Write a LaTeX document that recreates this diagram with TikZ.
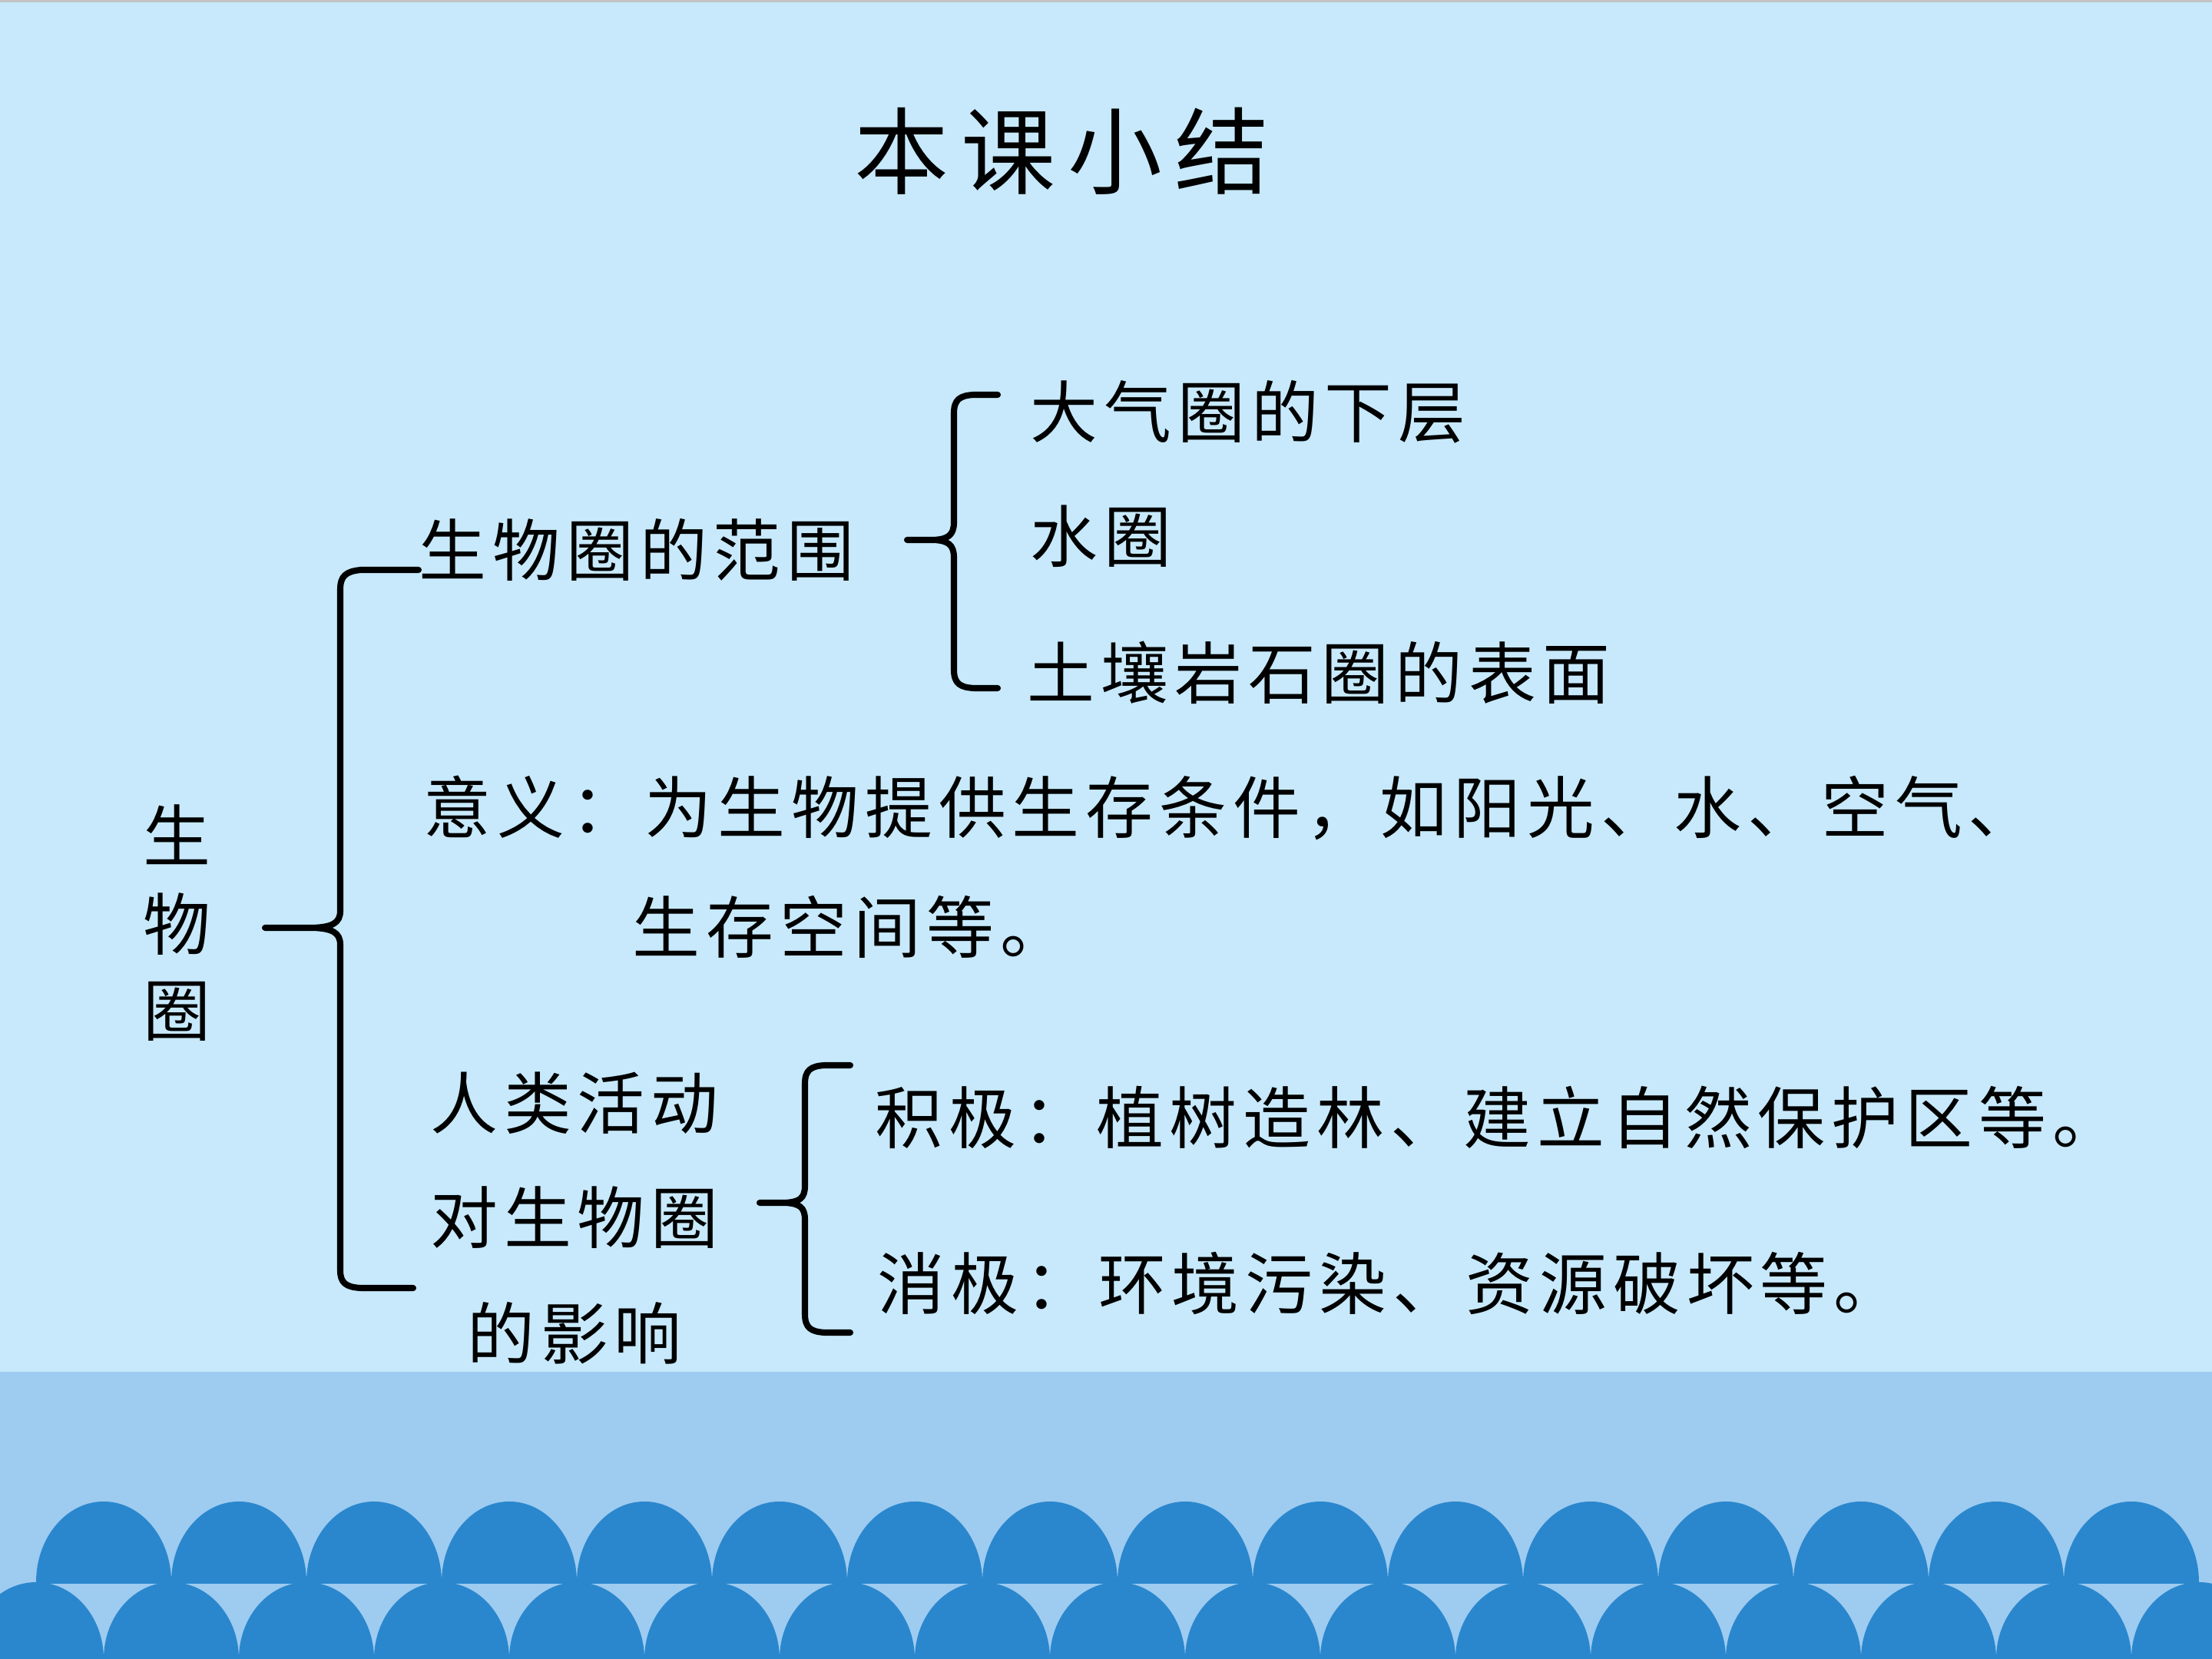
\documentclass[tikz,border=0pt]{standalone}
\usepackage{fontspec}
\setmainfont{Noto Sans CJK SC}
\newfontfamily\cjksp[LetterSpace=9]{Noto Sans CJK SC}
\definecolor{bgtop}{RGB}{199,233,251}
\definecolor{band}{RGB}{158,203,240}
\definecolor{wave}{RGB}{42,135,205}
\definecolor{topline}{RGB}{196,196,196}
\begin{document}
\begin{tikzpicture}[x=1cm,y=1cm,
  txt/.style={inner sep=0pt, font=\cjksp\fontsize{25pt}{30pt}\selectfont, anchor=west},
  ctxt/.style={inner sep=0pt, font=\cjksp\fontsize{25pt}{30pt}\selectfont},
  brace/.style={line width=2.3pt, line join=round, line cap=round}]
\useasboundingbox (0,0) rectangle (28.8,21.6);
% background
\fill[bgtop] (0,0) rectangle (28.8,21.6);
\fill[topline] (0,21.57) rectangle (28.8,21.6);
\fill[band] (0,0) rectangle (28.8,3.74);
\foreach \k in {0,...,15}
  \fill[wave] ({1.35+1.76*\k-0.88},0.98) -- ++(0,0.02)
    arc[start angle=180,end angle=0,x radius=0.88,y radius=1.05] -- ++(0,-0.02) -- cycle;
\foreach \k in {0,...,16}
  \fill[wave] ({0.47+1.76*\k-0.88},0)
    arc[start angle=180,end angle=0,x radius=0.88,y radius=1.0] -- cycle;
% title
\node[inner sep=0pt] (title) at (13.83,19.63)
  {\fontsize{35pt}{40pt}\selectfont 本\hspace{0.16cm}课\hspace{0.16cm}小\hspace{0.16cm}结};
% left vertical label
\node[ctxt] (s1) at (2.30,10.73) {生};
\node[ctxt] (s2) at (2.30,9.57) {物};
\node[ctxt] (s3) at (2.30,8.43) {圈};
% branch texts
\node[txt] (range) at (5.45,14.44) {生物圈的范围};
\node[txt] (r1) at (13.41,16.24) {大气圈的下层};
\node[txt] (r2) at (13.41,14.62) {水圈};
\node[txt] (r3) at (13.37,12.84) {土壤岩石圈的表面};
\node[txt] (m1) at (5.51,11.08) {意义：为生物提供生存条件，如阳光、水、空气、};
\node[txt] (m2) at (8.23,9.53) {生存空间等。};
\node[ctxt] (h1) at (7.48,7.24) {人类活动};
\node[ctxt] (h2) at (7.48,5.75) {对生物圈};
\node[ctxt] (h3) at (7.48,4.24) {的影响};
\node[txt] (pos) at (11.39,7.05) {积极：植树造林、建立自然保护区等。};
\node[txt] (neg) at (11.42,4.89) {消极：环境污染、资源破坏等。};
% brace coordinates
\coordinate (b1top) at (5.45,14.18);
\coordinate (b1tip) at (3.45,9.52);
\coordinate (b1bot) at (5.38,4.83);
\coordinate (b2top) at (12.99,16.46);
\coordinate (b2tip) at (11.81,14.57);
\coordinate (b2bot) at (12.99,12.64);
\coordinate (b3top) at (11.07,7.73);
\coordinate (b3tip) at (9.89,5.94);
\coordinate (b3bot) at (11.07,4.25);
% big brace
\draw[brace] (b1top) -- (4.70,14.18) .. controls (4.50,14.16) and (4.43,14.10) .. (4.43,13.92)
  -- (4.43,9.74) .. controls (4.43,9.58) and (4.32,9.53) .. (4.08,9.52) -- (b1tip)
  -- (4.08,9.52) .. controls (4.32,9.51) and (4.43,9.46) .. (4.43,9.30)
  -- (4.43,5.06) .. controls (4.43,4.90) and (4.50,4.84) .. (4.70,4.83) -- (b1bot);
% range brace
\draw[brace] (b2top) -- (12.68,16.46) .. controls (12.50,16.45) and (12.42,16.40) .. (12.42,16.22)
  -- (12.42,14.80) .. controls (12.42,14.63) and (12.34,14.58) .. (12.16,14.57) -- (b2tip)
  -- (12.16,14.57) .. controls (12.34,14.56) and (12.42,14.51) .. (12.42,14.34)
  -- (12.42,12.88) .. controls (12.42,12.70) and (12.50,12.65) .. (12.68,12.64) -- (b2bot);
% human activity brace
\draw[brace] (b3top) -- (10.74,7.73) .. controls (10.56,7.72) and (10.48,7.67) .. (10.48,7.49)
  -- (10.48,6.16) .. controls (10.48,5.99) and (10.40,5.95) .. (10.22,5.94) -- (b3tip)
  -- (10.22,5.94) .. controls (10.40,5.93) and (10.48,5.89) .. (10.48,5.72)
  -- (10.48,4.49) .. controls (10.48,4.31) and (10.56,4.26) .. (10.74,4.25) -- (b3bot);
\end{tikzpicture}
\end{document}
